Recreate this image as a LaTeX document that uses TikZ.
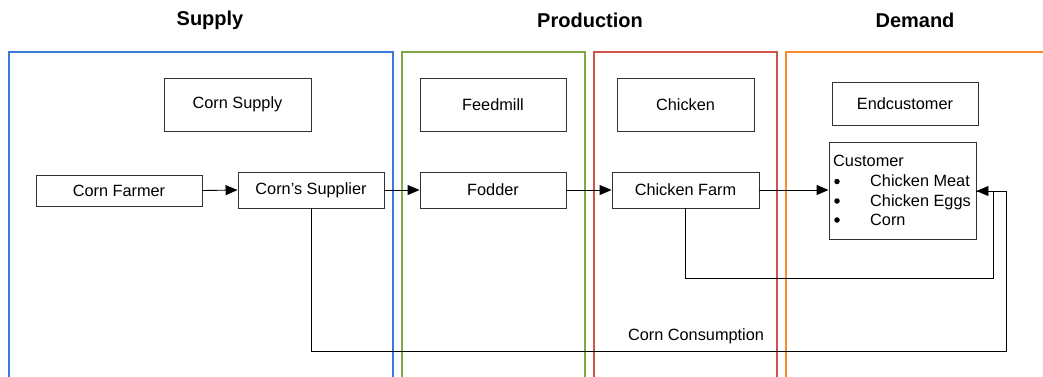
\documentclass[tikz,border=0pt]{standalone}
\usepackage{fontspec}
\setmainfont{Liberation Sans}
\usetikzlibrary{arrows.meta}
\definecolor{supplyblue}{RGB}{58,123,213}
\definecolor{feedgreen}{RGB}{130,168,70}
\definecolor{chickred}{RGB}{204,84,75}
\definecolor{demandorange}{RGB}{245,138,42}
\definecolor{boxgray}{RGB}{50,50,50}
\tikzset{
  panel/.style={line width=2pt},
  title/.style={font=\fontsize{20}{24}\selectfont\bfseries},
  body/.style={font=\fontsize{16.3}{19}\selectfont},
  stage/.style={draw=boxgray, line width=0.9pt, rectangle, inner sep=0pt, body},
  item/.style={body, anchor=base west, inner sep=0pt},
  dot/.style={circle, fill=black, inner sep=0pt, minimum size=5.5pt},
  flow/.style={line width=0.9pt, -{Triangle[length=12pt,width=10pt]}},
  link/.style={line width=0.9pt}
}
\begin{document}
\begin{tikzpicture}[x=1pt,y=-1pt]
\useasboundingbox (0,0) rectangle (1043,376);
\clip (0,0) rectangle (1043,376);

% section titles
\node[title] (tsupply) at (210,20) {Supply};
\node[title] (tprod) at (590,20) {Production};
\node[title] (tdemand) at (915,20) {Demand};

% section frames
\draw[panel, supplyblue] (9,400) -- (9,52) -- (393,52) -- (393,400);
\draw[panel, feedgreen] (402,400) -- (402,52) -- (585,52) -- (585,400);
\draw[panel, chickred] (594,400) -- (594,52) -- (777,52) -- (777,400);
\draw[panel, demandorange] (786,400) -- (786,52) -- (1060,52);

% category boxes
\node[stage, minimum width=147pt, minimum height=53pt] (cornsupply) at (237.5,104.5) {Corn Supply};
\node[stage, minimum width=146pt, minimum height=53pt] (feedmill) at (493,104.5) {Feedmill};
\node[stage, minimum width=137pt, minimum height=53pt] (chicken) at (685.5,104.5) {Chicken};
\node[stage, minimum width=146pt, minimum height=43pt] (endcust) at (905,103.5) {Endcustomer};

% chain actors
\node[stage, minimum width=166pt, minimum height=31pt] (farmer) at (119,190.5) {Corn Farmer};
\node[stage, minimum width=146pt, minimum height=36pt] (supplier) at (311,190) {Corn’s Supplier};
\node[stage, minimum width=146pt, minimum height=36pt] (fodder) at (493,190) {Fodder};
\node[stage, minimum width=147pt, minimum height=36pt] (farm) at (685.5,190) {Chicken Farm};
\node[stage, minimum width=147pt, minimum height=97pt] (customer) at (902.5,190.5) {};
\node[item] (custtitle) at (833,166) {Customer};
\node[dot] (b1) at (837,181.5) {};
\node[item] (i1) at (870,186) {Chicken Meat};
\node[dot] (b2) at (837,201) {};
\node[item] (i2) at (870,206) {Chicken Eggs};
\node[dot] (b3) at (837,220) {};
\node[item] (i3) at (870,225) {Corn};

% main flow
\draw[flow] (farmer.east) -- (supplier.west);
\draw[flow] (supplier.east) -- (fodder.west);
\draw[flow] (fodder.east) -- (farm.west);
\draw[flow] (farm.east) -- (farm.east -| customer.west);

% return paths into the customer box
\coordinate (cin) at (customer.east |- 0,191);
\draw[link] (farm.south) |- (993,278) |- (cin);
\draw[flow] (supplier.south) |- (1006,351) |- (cin);
\node[body, inner sep=0pt] (cons) at (696,336) {Corn Consumption};
\end{tikzpicture}
\end{document}
